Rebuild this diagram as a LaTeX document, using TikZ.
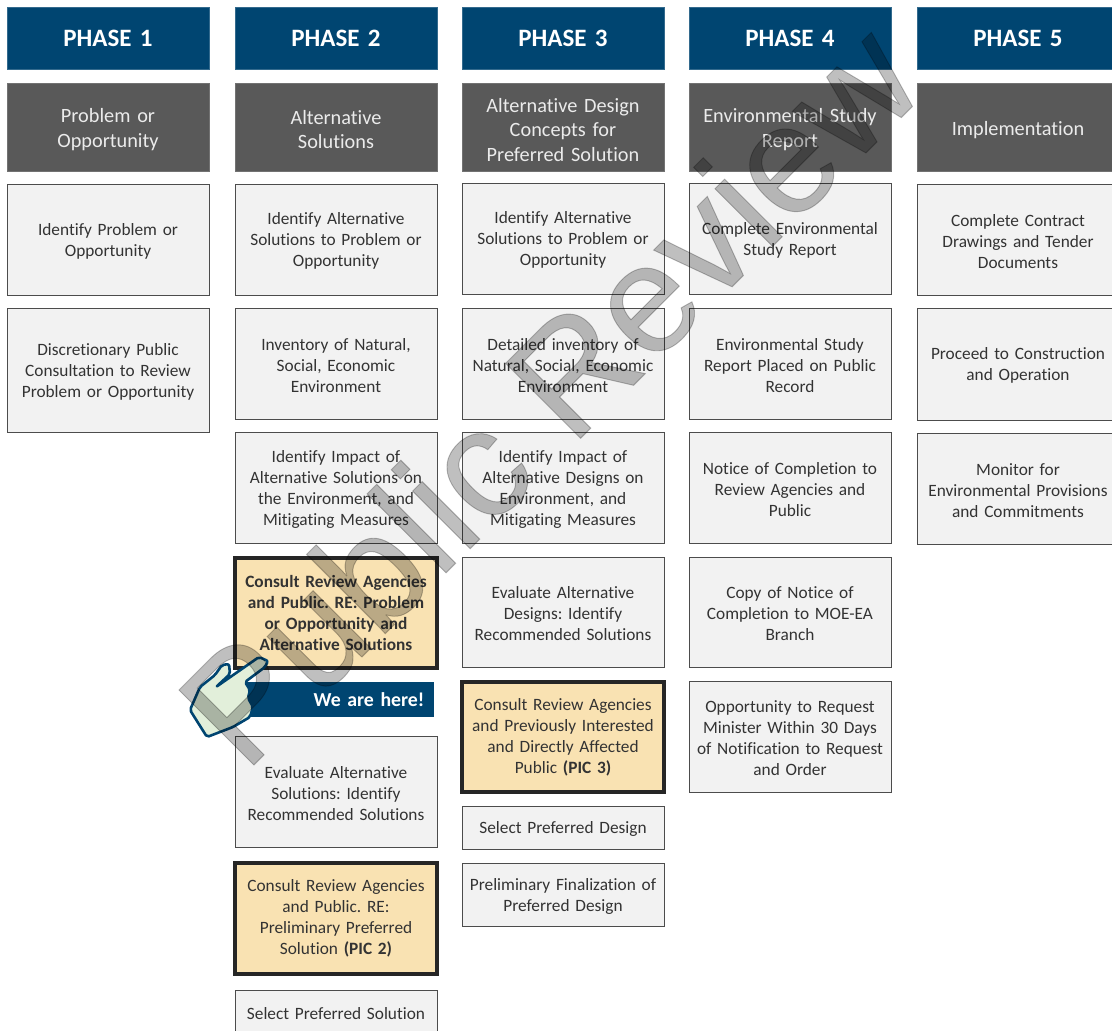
\documentclass[tikz,border=0pt]{standalone}
\usepackage{fontspec}
\setmainfont[Ligatures=NoCommon]{Carlito}
\newfontfamily\wmfont[FakeBold=0.6]{Liberation Sans}
\frenchspacing
\usetikzlibrary{calc}
\definecolor{navy}{HTML}{004571}
\definecolor{darkbox}{HTML}{595959}
\definecolor{lightbox}{HTML}{F2F2F2}
\definecolor{orangebox}{HTML}{F9E2B2}
\definecolor{txt}{HTML}{333333}
\definecolor{handfill}{HTML}{E2EFDA}
\tikzset{
 x=1pt,y=-1pt,
 base/.style={rectangle,inner sep=0pt,outer sep=0pt,align=center,font=\fontsize{17.3}{21}\selectfont,text=txt},
 phasebox/.style={base,fill=navy,draw=navy!80!white,line width=.5pt,text=white,font=\fontsize{25}{28}\bfseries\selectfont},
 titlebox/.style={base,fill=darkbox,draw=darkbox!85!white,line width=.5pt,text=white!92!black,font=\fontsize{20.3}{24.5}\selectfont,execute at begin node=\rule{0pt}{.95em}},
 stepbox/.style={base,fill=lightbox,draw=black!70,line width=1pt,execute at begin node=\rule{0pt}{.9em}},
 consultbox/.style={base,fill=orangebox,draw=black!85,line width=3.2pt},
 herebox/.style={base,fill=navy,text=white,font=\fontsize{19.8}{23}\bfseries\selectfont},
}
% name, x0, y0, x1, y1, style, text
\newcommand{\bx}[7]{\path let \n1={#4-#2},\n2={#5-#3} in node[#6,minimum width=\n1 pt,minimum height=\n2 pt,text width=\n1 pt - 8pt] (#1) at ({(#2+#4)/2},{(#3+#5)/2}) {#7};}
\begin{document}
\begin{tikzpicture}
\useasboundingbox (0,0) rectangle (1112,1031);
\clip (0,0) rectangle (1112,1031);
\fill[white] (0,0) rectangle (1112,1031);
% phases
\bx{pa}{7}{7}{209}{69}{phasebox}{PHASE 1}
\bx{pb}{235}{7}{437}{69}{phasebox}{PHASE 2}
\bx{pc}{462}{7}{664}{69}{phasebox}{PHASE 3}
\bx{pd}{689}{7}{891}{69}{phasebox}{PHASE 4}
\bx{pe}{917}{7}{1119}{69}{phasebox}{PHASE 5}
% titles
\bx{ta}{7}{83}{209}{171}{titlebox}{Problem or\\Opportunity}
\bx{tb}{235}{83}{437}{171}{titlebox}{Alternative\\Solutions}
\bx{tc}{462}{83}{664}{171}{titlebox}{Alternative Design\\Concepts for\\Preferred Solution}
\bx{td}{689}{83}{891}{171}{titlebox}{Environmental Study\\Report}
\bx{te}{917}{83}{1119}{171}{titlebox}{Implementation}
% column 1
\bx{a1}{7}{184}{209}{295}{stepbox}{Identify Problem or\\Opportunity}
\bx{a2}{7}{308}{209}{432}{stepbox}{Discretionary Public\\Consultation to Review\\Problem or Opportunity}
% column 2
\bx{b1}{235}{184}{437}{295}{stepbox}{Identify Alternative\\Solutions to Problem or\\Opportunity}
\bx{b2}{235}{308}{437}{419}{stepbox}{Inventory of Natural,\\Social, Economic\\Environment}
\bx{b3}{235}{432}{437}{543}{stepbox}{Identify Impact of\\Alternative Solutions on\\the Environment, and\\Mitigating Measures}
\bx{b4}{235}{558}{437}{668}{consultbox,font=\fontsize{17.3}{21}\bfseries\selectfont}{Consult Review Agencies\\and Public. RE: Problem\\or Opportunity and\\Alternative Solutions}
\bx{bh}{240}{682}{434}{717}{herebox}{\hspace*{64pt}We are here!}
\bx{b5}{235}{736}{437}{847}{stepbox}{Evaluate Alternative\\Solutions: Identify\\Recommended Solutions}
\bx{b6}{235}{863}{437}{974}{consultbox}{Consult Review Agencies\\and Public. RE:\\Preliminary Preferred\\Solution \textbf{(PIC 2)}}
\bx{b7}{235}{990}{437}{1033}{stepbox}{Select Preferred Solution}
% column 3
\bx{c1}{462}{183}{664}{294}{stepbox}{Identify Alternative\\Solutions to Problem or\\Opportunity}
\bx{c2}{462}{308}{664}{419}{stepbox}{Detailed inventory of\\Natural, Social, Economic\\Environment}
\bx{c3}{462}{432}{664}{543}{stepbox}{Identify Impact of\\Alternative Designs on\\Environment, and\\Mitigating Measures}
\bx{c4}{462}{557}{664}{667}{stepbox}{Evaluate Alternative\\Designs: Identify\\Recommended Solutions}
\bx{c5}{462}{682}{664}{792}{consultbox}{Consult Review Agencies\\and Previously Interested\\and Directly Affected\\Public \textbf{(PIC 3)}}
\bx{c6}{462}{806}{664}{849}{stepbox}{Select Preferred Design}
\bx{c7}{462}{863}{664}{926}{stepbox}{Preliminary Finalization of\\Preferred Design}
% column 4
\bx{d1}{689}{183}{891}{294}{stepbox}{Complete Environmental\\Study Report}
\bx{d2}{689}{308}{891}{419}{stepbox}{Environmental Study\\Report Placed on Public\\Record}
\bx{d3}{689}{432}{891}{543}{stepbox}{Notice of Completion to\\Review Agencies and\\Public}
\bx{d4}{689}{557}{891}{667}{stepbox}{Copy of Notice of\\Completion to MOE-EA\\Branch}
\bx{d5}{689}{681}{891}{792}{stepbox}{Opportunity to Request\\Minister Within 30 Days\\of Notification to Request\\and Order}
% column 5
\bx{e1}{917}{184}{1119}{295}{stepbox}{Complete Contract\\Drawings and Tender\\Documents}
\bx{e2}{917}{308}{1119}{420}{stepbox}{Proceed to Construction\\and Operation}
\bx{e3}{917}{433}{1119}{544}{stepbox}{Monitor for\\Environmental Provisions\\and Commitments}
% hand
\draw[navy,line width=2.6pt,fill=handfill,line join=round,rounded corners=2pt]
 (190,710) -- (200,687) -- (215,675) -- (222,665) -- (229,664) -- (230,674) -- (216,687)
 -- (259,657) -- (268,661) -- (265,667) -- (245,682) -- (250,690) -- (248,698) -- (253,707) -- (250,717)
 -- (233,727) -- (207,737) -- cycle;
% watermark
\node[font=\wmfont\fontsize{154}{154}\selectfont,text=black,opacity=.25,rotate=45,inner sep=0pt] (wm) at (548,393) {Public Review};
\end{tikzpicture}
\end{document}
